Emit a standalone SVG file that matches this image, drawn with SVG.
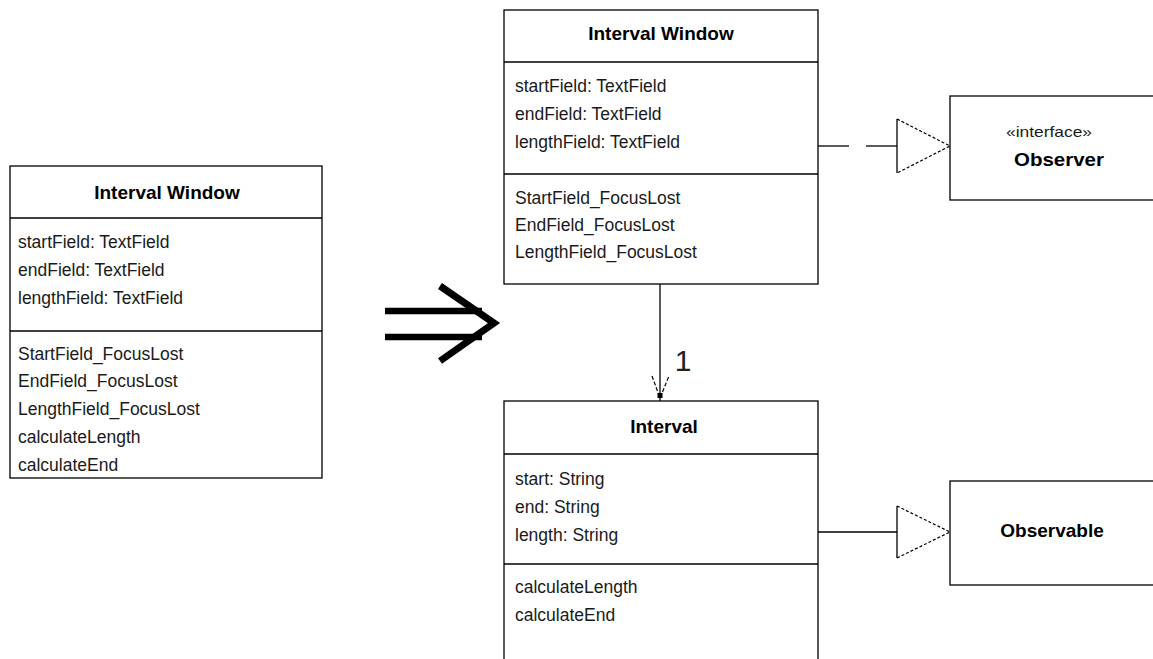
<svg xmlns="http://www.w3.org/2000/svg" width="1153" height="659" viewBox="0 0 1153 659">
<style>
.box{fill:#fff;stroke:#000;stroke-width:1.3}
.div{stroke:#000;stroke-width:1.3}
.t{font-family:"Liberation Sans",Arial,sans-serif;font-size:17.5px;fill:#1a1a1a}
.h{font-family:"Liberation Sans",Arial,sans-serif;font-size:19px;font-weight:bold;fill:#000;text-anchor:middle}
.s{font-family:"Liberation Sans",Arial,sans-serif;font-size:15px;fill:#1a1a1a;text-anchor:middle}
.ln{stroke:#000;stroke-width:1.3;fill:none}
</style>
<rect width="1153" height="659" fill="#fff"/>

<g id="left-interval-window">
<rect class="box" x="10" y="166" width="312" height="312"/>
<line class="div" x1="10" y1="218" x2="322" y2="218"/>
<line class="div" x1="10" y1="331" x2="322" y2="331"/>
<text class="h" x="167" y="199">Interval Window</text>
<text class="t" x="18" y="248">startField: TextField</text>
<text class="t" x="18" y="276">endField: TextField</text>
<text class="t" x="18" y="304">lengthField: TextField</text>
<text class="t" x="18" y="360">StartField_FocusLost</text>
<text class="t" x="18" y="387">EndField_FocusLost</text>
<text class="t" x="18" y="415">LengthField_FocusLost</text>
<text class="t" x="18" y="443">calculateLength</text>
<text class="t" x="18" y="471">calculateEnd</text>
</g>

<g id="big-arrow">
<line x1="385" y1="311" x2="482" y2="311" stroke="#000" stroke-width="6.5"/>
<line x1="385" y1="337" x2="482" y2="337" stroke="#000" stroke-width="6.5"/>
<polyline points="440,286 494,323 440,361" fill="none" stroke="#000" stroke-width="7"/>
</g>

<g id="interval-window">
<rect class="box" x="504" y="10" width="314" height="274"/>
<line class="div" x1="504" y1="62" x2="818" y2="62"/>
<line class="div" x1="504" y1="174" x2="818" y2="174"/>
<text class="h" x="661" y="40">Interval Window</text>
<text class="t" x="515" y="92">startField: TextField</text>
<text class="t" x="515" y="120">endField: TextField</text>
<text class="t" x="515" y="148">lengthField: TextField</text>
<text class="t" x="515" y="204">StartField_FocusLost</text>
<text class="t" x="515" y="231">EndField_FocusLost</text>
<text class="t" x="515" y="258">LengthField_FocusLost</text>
</g>

<g id="observer">
<rect class="box" x="950" y="96" width="215" height="104"/>
<text class="s" x="1049" y="137" textLength="86" lengthAdjust="spacingAndGlyphs">«interface»</text>
<text class="h" x="1059" y="166" textLength="90" lengthAdjust="spacingAndGlyphs">Observer</text>
</g>

<g id="interval">
<rect class="box" x="504" y="401" width="314" height="270"/>
<line class="div" x1="504" y1="454" x2="818" y2="454"/>
<line class="div" x1="504" y1="564" x2="818" y2="564"/>
<text class="h" x="664" y="433">Interval</text>
<text class="t" x="515" y="485">start: String</text>
<text class="t" x="515" y="513">end: String</text>
<text class="t" x="515" y="541">length: String</text>
<text class="t" x="515" y="593">calculateLength</text>
<text class="t" x="515" y="621">calculateEnd</text>
</g>

<g id="observable">
<rect class="box" x="950" y="481" width="215" height="104"/>
<text class="h" x="1052" y="537">Observable</text>
</g>

<g id="connectors">
<line class="ln" x1="818" y1="146" x2="849" y2="146"/>
<line class="ln" x1="866" y1="146" x2="897" y2="146"/>
<line class="ln" x1="897" y1="119" x2="897" y2="173"/>
<polyline points="897,119 950,146 897,173" fill="none" stroke="#000" stroke-width="1.2" stroke-dasharray="3 2"/>

<line class="ln" x1="818" y1="532" x2="897" y2="532"/>
<line class="ln" x1="897" y1="506" x2="897" y2="558"/>
<polyline points="897,506 950,532 897,558" fill="none" stroke="#000" stroke-width="1.2" stroke-dasharray="3 2"/>

<line class="ln" x1="660" y1="284" x2="660" y2="401"/>
<polyline points="652,376 660,398 669,376" fill="none" stroke="#000" stroke-width="1.2" stroke-dasharray="4 2"/>
<rect x="657.5" y="393" width="5" height="5" fill="#000"/>
<text x="683" y="371" font-family="Liberation Sans,Arial,sans-serif" font-size="30" fill="#222" text-anchor="middle">1</text>
</g>
</svg>
